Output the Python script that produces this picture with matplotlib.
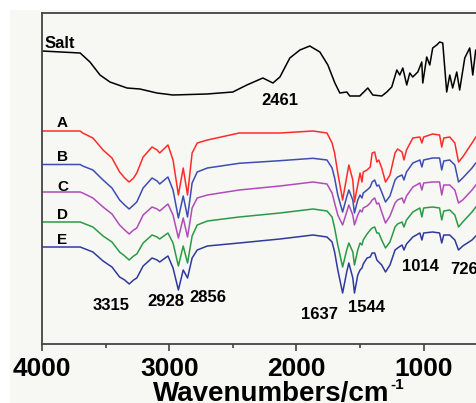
import numpy as np
import matplotlib
matplotlib.use("Agg")
import matplotlib.pyplot as plt
from matplotlib.ticker import MultipleLocator
from matplotlib.patches import Rectangle

plt.rcParams['font.family'] = ['Liberation Sans', 'DejaVu Sans']

# Salt spectrum (wavenumber, transmittance a.u.)
salt_wn = [4000, 3700, 3623, 3544, 3466, 3332, 3230, 3097, 2971, 2704, 2500, 2390,
           2264, 2185, 2130, 2052, 1973, 1895, 1816, 1753, 1698, 1659, 1604, 1581,
           1502, 1439, 1400, 1329, 1290, 1251, 1211, 1188, 1164, 1133, 1109, 1086,
           1046, 1015, 1007, 976, 952, 929, 897, 874, 850, 819, 795, 772, 740, 717,
           677, 638, 614, 591, 560]
salt_t = [293, 291, 282, 269, 262, 256, 255, 251, 249, 250, 252, 259,
          266, 261, 267, 286, 294, 298, 292, 279, 261, 251, 252, 248,
          248, 256, 249, 248, 252, 257, 274, 269, 276, 259, 271, 267,
          272, 282, 261, 287, 279, 296, 299, 302, 301, 252, 269, 256, 272, 254,
          286, 296, 269, 294, 290]

# samples A-E share one wavenumber grid
wn = [4000, 3700, 3680, 3600, 3520, 3450, 3390, 3350, 3315, 3280, 3255, 3205, 3135, 3095,
      3075, 3010, 2970, 2928, 2890, 2856, 2820, 2780, 2700, 2450, 2130, 1870, 1760, 1720,
      1700, 1675, 1637, 1605, 1588, 1557, 1544, 1518, 1500, 1485, 1475, 1445, 1420,
      1405, 1385, 1368, 1353, 1330, 1300, 1265, 1225, 1205, 1170, 1155, 1135, 1085,
      1030, 1014, 1000, 930, 875, 858, 842, 795, 755, 726, 693, 620, 590, 560]

t_a = [213, 213, 211, 206, 194, 186, 172, 166, 162, 166, 171, 187, 197, 194,
       191, 199, 184, 149, 176, 149, 191, 201, 204, 211, 211, 213, 211, 201,
       191, 171, 144, 167, 179, 164, 142, 159, 171, 162, 172, 174, 177,
       191, 192, 182, 184, 176, 162, 169, 191, 195, 192, 184, 194, 206,
       207, 201, 207, 210, 209, 197, 206, 207, 201, 182, 187, 201, 207, 211]
t_b = [179.5, 179.5, 178, 174, 164, 156, 144, 139, 135, 139, 142, 156, 166, 163,
       160, 167, 154, 126, 148, 127, 161, 172, 176, 180.7, 183.3, 185.7, 184, 176,
       166, 149, 132, 147, 154, 144, 131, 144, 149, 146, 151, 154, 157,
       162, 164, 158, 159, 152, 142, 148, 164, 167, 169, 164, 172, 181,
       184, 177, 184, 186, 186, 174, 183, 184, 179, 162, 166, 176, 181, 184]
t_c = [152, 152, 151, 146, 137, 130, 119, 114, 110, 114, 116, 129, 137, 135,
       133, 140, 129, 106, 126, 107, 136, 146, 149, 154, 158, 162, 160, 151,
       141, 129, 119, 132, 139, 129, 119, 129, 134, 132, 136, 138, 141,
       144, 146, 140, 141, 132, 121, 128, 141, 144, 146, 141, 148, 157,
       161, 154, 161, 162, 162, 149, 159, 159, 154, 141, 144, 154, 159, 162]
t_d = [122, 122, 121, 117, 108, 102, 92, 88, 84, 88, 90, 101, 109, 107,
       105, 111, 101, 78, 98, 81, 108, 119, 123, 127, 131, 135, 133, 127,
       116, 99, 77, 94, 101, 92, 79, 94, 101, 99, 104, 110, 114,
       116, 117, 111, 111, 104, 96, 102, 117, 120, 122, 117, 124, 132,
       136, 127, 136, 137, 136, 124, 133, 134, 129, 117, 122, 132, 137, 140]
t_e = [97, 97, 96, 92, 83, 77, 67, 64, 60, 64, 66, 78, 86, 84,
       82, 88, 76, 54, 74, 66, 86, 94, 98, 101, 105, 109, 107, 102,
       92, 74, 51, 72, 81, 66, 51, 69, 74, 76, 80, 86, 87,
       91, 91, 84, 82, 79, 72, 79, 94, 96, 99, 94, 100, 107,
       111, 104, 111, 112, 111, 101, 109, 109, 104, 94, 98, 104, 108, 111]

names = ['A', 'B', 'C', 'D', 'E']
colors = ['#ff2b2b', '#3d4db4', '#b04cb8', '#2b9a45', '#2f3a9c']
name_t = [221, 187, 157, 129, 104]

peaks = ['3315', '2928', '2856', '1637', '1544', '1014', '726']
peak_wn = [3458, 3026, 2696, 1816, 1447, 1023, 685]
peak_t = [38, 42, 47, 29.5, 36.5, 77.5, 74]

fig = plt.figure(figsize=(4.76, 4.03), dpi=100, facecolor='white')
fig.patches.append(Rectangle((10 / 476, 0), 1, (403 - 10) / 403, transform=fig.transFigure,
                             facecolor='#f7f7f3', edgecolor='none', zorder=-1))
ax = fig.add_axes([42 / 476, 59 / 403, 458 / 476, 331 / 403])
ax.set_facecolor('#f7f7f3')

ax.plot(salt_wn, salt_t, color='black', lw=1.1, solid_joinstyle='round')
for t, c in zip([t_a, t_b, t_c, t_d, t_e], colors):
    ax.plot(wn, t, color=c, lw=1.1, solid_joinstyle='round')

ax.text(3984, 300.5, 'Salt', fontsize=12, fontweight='bold', va='center', ha='left')
ax.text(2130, 243.5, '2461', fontsize=12, fontweight='bold', va='center', ha='center')
for n, t in zip(names, name_t):
    ax.text(3882, t, n, fontsize=11, fontweight='bold', va='center', ha='left')
for p, x, y in zip(peaks, peak_wn, peak_t):
    ax.text(x, y, p, fontsize=12, fontweight='bold', va='center', ha='center')

ax.set_xlim(4000, 400)
ax.set_ylim(0, 331)
ax.set_yticks([])
ax.xaxis.set_major_locator(MultipleLocator(1000))
ax.xaxis.set_minor_locator(MultipleLocator(500))
ax.tick_params(axis='x', which='major', direction='out', length=5, width=1.2,
               color='#444444', labelsize=19, pad=4)
ax.tick_params(axis='x', which='minor', direction='out', length=3, width=1.2, color='#444444')
for lab in ax.get_xticklabels():
    lab.set_fontweight('bold')
for s in ['left', 'top', 'bottom']:
    ax.spines[s].set_color('#444444')
    ax.spines[s].set_linewidth(1.3)
ax.spines['right'].set_visible(False)

# axis title sits partly below the picture edge, as in the source image
fig.text(271 / 476, 1 - 381 / 403, 'Wavenumbers/cm', fontsize=20, fontweight='bold',
         ha='center', va='top')
fig.text(390 / 476, 1 - 378 / 403, '-1', fontsize=11, fontweight='bold', ha='left', va='top')

fig.savefig('out.png', dpi=100, facecolor=fig.get_facecolor())
